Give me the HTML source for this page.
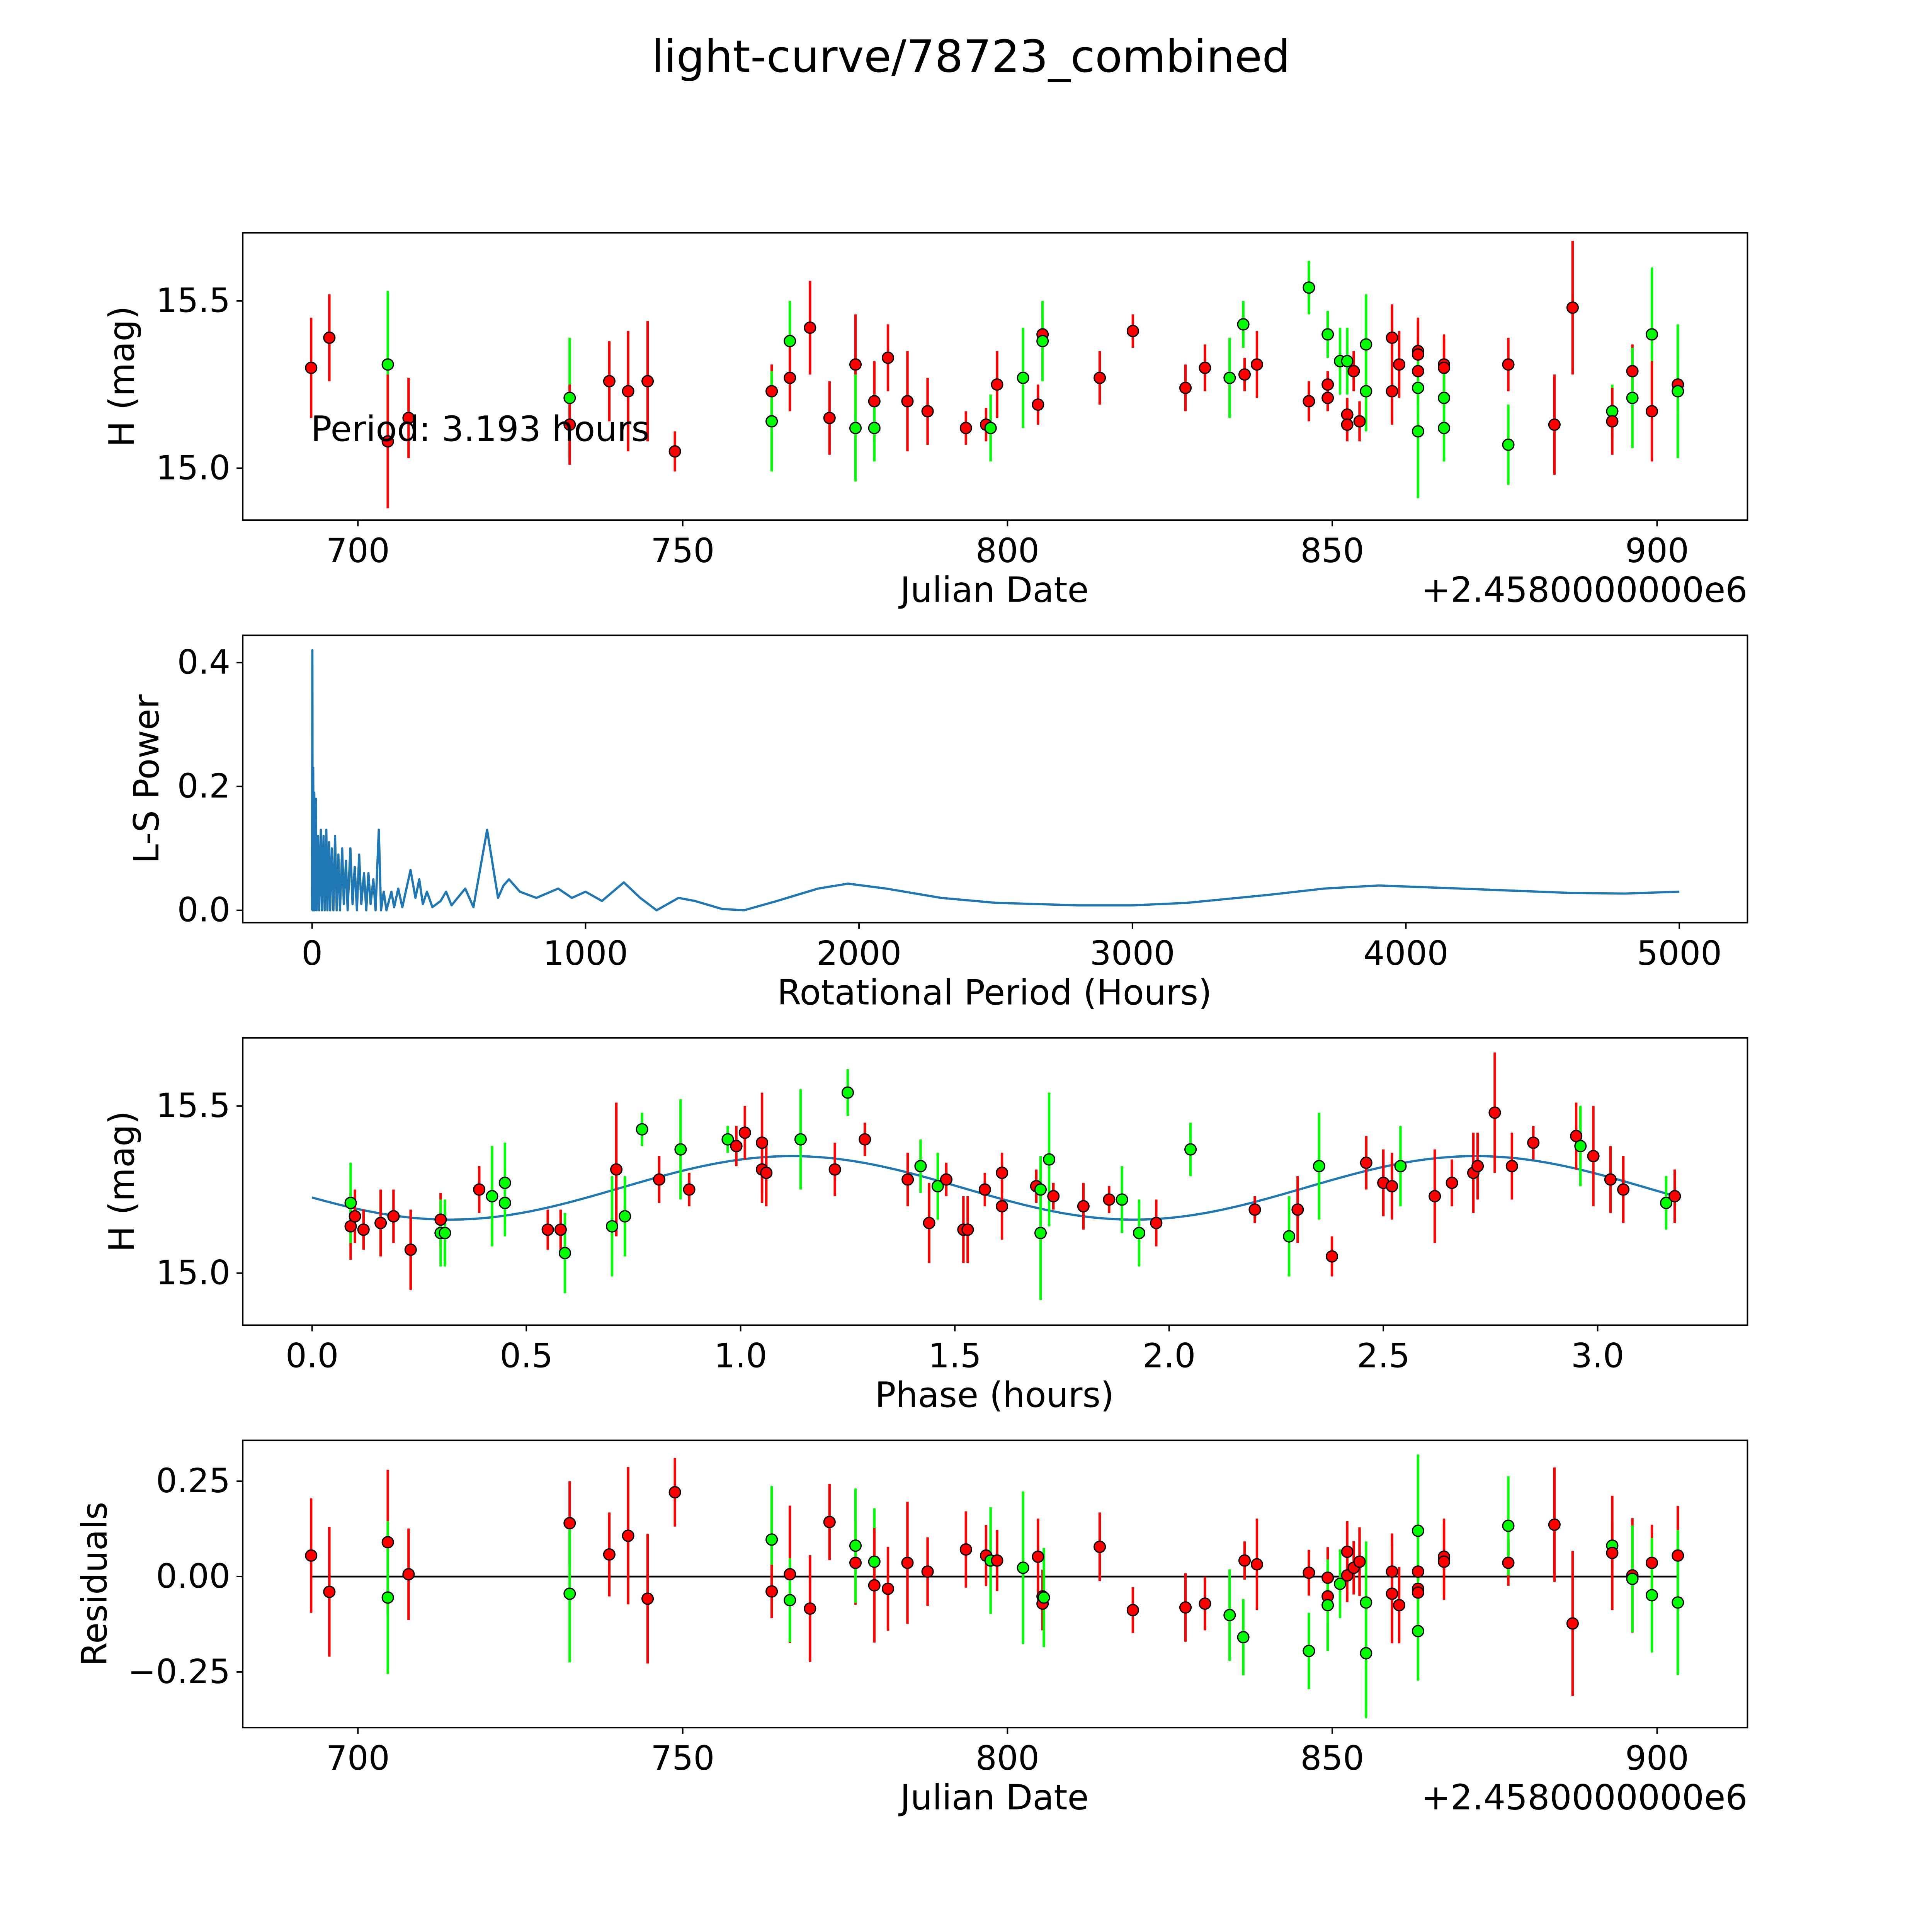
<!DOCTYPE html>
<html><head><meta charset="utf-8"><style>
html,body{margin:0;padding:0;background:#fff;width:100%;height:100%;overflow:hidden}
svg{display:block;width:100vw;height:100vh}
text{font-family:"DejaVu Sans","Liberation Sans",sans-serif;fill:#000}
</style></head><body>
<svg id="fig" xmlns="http://www.w3.org/2000/svg" viewBox="0 0 1560 1560" preserveAspectRatio="xMidYMid meet">
<rect x="0" y="0" width="1560" height="1560" fill="#fff"/>
<text x="784" y="58" font-size="36" text-anchor="middle">light-curve/78723_combined</text>
</svg>
<script>
// ---------- Panel 1: light curve data ----------
const jd = [692.8,695.6,704.6,704.6,707.8,732.6,732.6,738.7,741.6,744.6,748.8,763.7,763.7,766.5,766.5,769.6,772.6,776.6,776.6,779.5,779.5,781.6,784.6,787.7,793.6,796.7,797.4,798.4,802.4,804.7,805.4,805.4,814.2,819.3,827.4,830.4,834.2,836.3,836.5,838.4,846.4,846.4,849.3,849.3,849.3,851.2,852.3,852.3,852.3,853.3,854.2,855.2,855.2,859.2,859.2,860.3,863.2,863.2,863.2,863.2,863.2,867.2,867.2,867.2,867.2,877.1,877.1,884.2,887.0,893.1,893.1,896.2,896.2,899.2,899.2,903.2,903.2];
const mag = [15.30,15.39,15.31,15.08,15.15,15.21,15.13,15.26,15.23,15.26,15.05,15.23,15.14,15.38,15.27,15.42,15.15,15.31,15.12,15.20,15.12,15.33,15.20,15.17,15.12,15.13,15.12,15.25,15.27,15.19,15.40,15.38,15.27,15.41,15.24,15.30,15.27,15.43,15.28,15.31,15.54,15.20,15.40,15.25,15.21,15.32,15.32,15.16,15.13,15.29,15.14,15.37,15.23,15.39,15.23,15.31,15.35,15.34,15.29,15.24,15.11,15.31,15.30,15.21,15.12,15.31,15.07,15.13,15.48,15.17,15.14,15.29,15.21,15.40,15.17,15.25,15.23];
const magErr = [0.15,0.13,0.22,0.20,0.12,0.18,0.12,0.12,0.18,0.18,0.06,0.08,0.15,0.12,0.10,0.14,0.11,0.15,0.16,0.12,0.10,0.10,0.15,0.10,0.05,0.05,0.10,0.10,0.15,0.06,0.05,0.12,0.08,0.05,0.07,0.07,0.12,0.07,0.05,0.10,0.08,0.06,0.07,0.04,0.04,0.10,0.10,0.05,0.05,0.06,0.06,0.15,0.12,0.10,0.10,0.10,0.10,0.10,0.10,0.08,0.20,0.08,0.10,0.10,0.10,0.08,0.12,0.15,0.20,0.08,0.10,0.08,0.15,0.20,0.15,0.08,0.20];
const band = ["R","R","G","R","R","G","R","R","R","R","R","R","G","G","R","R","R","R","G","R","G","R","R","R","R","R","G","R","G","R","R","G","R","R","R","R","G","G","R","R","G","R","G","R","R","G","G","R","R","R","R","G","G","R","R","R","R","R","R","G","G","R","R","G","G","R","G","R","R","G","R","R","G","G","R","R","G"];

// ---------- Panel 2: periodogram ----------
const lsPeriod = [0,1,2,4,6,8,10,14,17,22,26,32,36,42,46,52,56,62,66,72,78,84,90,96,102,110,116,124,130,140,148,156,164,172,180,190,198,206,214,224,232,244,252,262,272,290,300,315,330,360,378,392,405,420,440,470,490,510,560,590,640,680,700,720,760,820,900,950,1000,1060,1140,1200,1260,1340,1400,1500,1580,1700,1850,1960,2100,2300,2500,2800,3000,3200,3500,3700,3900,4200,4600,4800,5000];
const lsPower = [0,0.42,0,0.23,0,0.19,0,0.18,0,0.12,0,0.13,0,0.12,0,0.13,0,0.11,0,0.10,0,0.12,0,0.09,0,0.10,0.01,0.08,0,0.10,0.01,0.07,0,0.09,0.01,0.06,0,0.06,0.01,0.05,0,0.13,0,0.03,0,0.03,0.005,0.035,0.005,0.065,0.02,0.05,0.01,0.03,0.005,0.015,0.03,0.008,0.035,0.005,0.13,0.02,0.04,0.05,0.03,0.02,0.035,0.02,0.03,0.015,0.045,0.02,0.0,0.02,0.015,0.002,0.0,0.015,0.035,0.043,0.035,0.02,0.012,0.008,0.008,0.012,0.025,0.035,0.04,0.035,0.028,0.027,0.03];

// ---------- Panel 3: phased data ----------
const phase = [0.09,0.09,0.10,0.12,0.16,0.19,0.23,0.30,0.30,0.31,0.39,0.42,0.45,0.45,0.55,0.58,0.59,0.70,0.71,0.73,0.81,0.77,0.86,0.88,0.97,0.99,1.01,1.05,1.05,1.06,1.14,1.22,1.25,1.29,1.39,1.42,1.44,1.46,1.48,1.52,1.53,1.57,1.61,1.61,1.69,1.70,1.70,1.72,1.73,1.80,1.86,1.89,1.93,1.97,2.05,2.20,2.28,2.30,2.35,2.38,2.46,2.50,2.52,2.54,2.62,2.66,2.71,2.72,2.76,2.80,2.85,2.95,2.96,2.99,3.03,3.06,3.16,3.18];
const phMag = [15.14,15.21,15.17,15.13,15.15,15.17,15.07,15.16,15.12,15.12,15.25,15.23,15.27,15.21,15.13,15.13,15.06,15.14,15.31,15.17,15.28,15.43,15.37,15.25,15.40,15.38,15.42,15.31,15.39,15.30,15.40,15.31,15.54,15.40,15.28,15.32,15.15,15.26,15.28,15.13,15.13,15.25,15.30,15.20,15.26,15.12,15.25,15.34,15.23,15.20,15.22,15.22,15.12,15.15,15.37,15.19,15.11,15.19,15.32,15.05,15.33,15.27,15.26,15.32,15.23,15.27,15.30,15.32,15.48,15.32,15.39,15.41,15.38,15.35,15.28,15.25,15.21,15.23];
const phErr = [0.10,0.12,0.08,0.06,0.10,0.08,0.12,0.08,0.10,0.10,0.07,0.15,0.12,0.10,0.06,0.06,0.12,0.15,0.20,0.12,0.07,0.05,0.15,0.05,0.04,0.06,0.08,0.10,0.15,0.10,0.15,0.08,0.07,0.05,0.08,0.08,0.12,0.10,0.05,0.10,0.10,0.05,0.06,0.10,0.05,0.20,0.10,0.20,0.04,0.07,0.04,0.10,0.10,0.07,0.08,0.04,0.12,0.10,0.16,0.06,0.08,0.10,0.10,0.12,0.14,0.07,0.12,0.10,0.18,0.10,0.05,0.10,0.12,0.15,0.10,0.10,0.08,0.08];
const phBand = ["R","G","R","R","R","R","R","R","G","G","R","G","G","G","R","R","G","G","R","G","R","G","G","R","G","R","R","R","R","R","G","R","G","R","R","G","R","G","R","R","R","R","R","R","R","G","G","G","R","R","R","G","G","R","G","R","G","R","G","R","R","R","R","G","R","R","R","R","R","R","R","R","G","R","R","R","G","R"];
const fitMean = [15.255];
const fitAmp = [0.095];
const fitPhase0 = [0.72];
const periodHours = [3.193];

// ---------- Panel 4: residuals ----------
const resJd = [692.8,695.6,704.6,704.6,707.8,732.6,732.6,738.7,741.6,744.6,748.8,763.7,763.7,766.5,766.5,769.6,772.6,776.6,776.6,779.5,779.5,781.6,784.6,787.7,793.6,796.7,797.4,798.4,802.4,804.7,805.4,805.4,805.6,814.2,819.3,827.4,830.4,834.2,836.3,836.5,838.4,846.4,846.4,849.3,849.3,849.3,851.2,852.3,852.3,853.3,854.2,855.2,855.2,859.2,859.2,860.3,863.2,863.2,863.2,863.2,863.2,867.2,867.2,877.1,877.1,884.2,887.0,893.1,893.1,896.2,896.2,899.2,899.2,903.2,903.2];
const resid = [0.055,-0.040,0.090,-0.055,0.006,0.140,-0.045,0.058,0.107,-0.058,0.221,0.097,-0.039,0.006,-0.062,-0.084,0.143,0.036,0.081,0.039,-0.023,-0.032,0.036,0.013,0.071,0.055,0.042,0.042,0.023,0.052,-0.052,-0.071,-0.055,0.078,-0.088,-0.081,-0.071,-0.101,-0.159,0.042,0.032,-0.195,0.010,-0.003,-0.052,-0.075,-0.019,0.065,0.003,0.023,0.039,-0.068,-0.201,0.013,-0.045,-0.075,-0.032,-0.042,0.013,0.120,-0.143,0.052,0.039,0.036,0.133,0.136,-0.123,0.081,0.062,0.003,-0.006,0.036,-0.049,0.055,-0.068];
const residErr = [0.15,0.17,0.19,0.20,0.12,0.11,0.18,0.11,0.18,0.17,0.09,0.14,0.07,0.18,0.11,0.14,0.10,0.11,0.15,0.14,0.15,0.11,0.16,0.09,0.10,0.08,0.14,0.08,0.20,0.10,0.07,0.07,0.13,0.09,0.06,0.09,0.07,0.12,0.10,0.05,0.12,0.10,0.06,0.08,0.07,0.12,0.09,0.08,0.07,0.07,0.09,0.16,0.17,0.10,0.13,0.10,0.09,0.08,0.10,0.20,0.13,0.10,0.10,0.06,0.13,0.15,0.19,0.06,0.15,0.15,0.14,0.10,0.15,0.13,0.19];
const resBand = ["R","R","R","G","R","R","G","R","R","R","R","G","R","R","G","R","R","R","G","G","R","R","R","R","R","R","G","R","G","R","R","R","G","R","R","R","R","G","G","R","R","G","R","R","R","G","G","R","R","R","R","G","G","R","R","R","R","R","R","G","G","R","R","R","G","R","R","G","R","R","G","R","G","R","G"];

const jdTicks = [700,750,800,850,900];
const magTicks = [15.0,15.5];
const lsXTicks = [0,1000,2000,3000,4000,5000];
const lsYTicks = [0.0,0.2,0.4];
const phTicks = [0.0,0.5,1.0,1.5,2.0,2.5,3.0];
const resTicks = [-0.25,0.0,0.25];

const NS = "http://www.w3.org/2000/svg";
const svg = document.getElementById('fig');
function mk(tag, attrs, parent){const e=document.createElementNS(NS,tag);for(const k in attrs)e.setAttribute(k,attrs[k]);(parent||svg).appendChild(e);return e;}
const COL = {R:"#ff0000", G:"#00ff00"};

const L=196, R=1411;
const jdX = v => 289 + (v-700)*(1338-289)/200;
const P1 = {top:188,bot:420}; const magY1 = v => 378 - (v-15)*270;
const P2 = {top:513,bot:745}; const lsX = v => 252 + v*(1356-252)/5000; const lsY = v => 735 - v*500;
const P3 = {top:838,bot:1070}; const phX = v => 252 + v*(1290-252)/3; const magY3 = v => 1028 - (v-15)*270;
const P4 = {top:1163,bot:1395}; const resY = v => 1273 - v*308;

function frame(p, name){
  const r = mk('rect',{x:L,y:p.top,width:R-L,height:p.bot-p.top,fill:'none',stroke:'#000','stroke-width':1.2});
  
  
}
function xticks(p, ticks, fx, fmt, name){
  const g = mk('g',{});
  
  
  ticks.forEach(t=>{
    const x=fx(t);
    mk('line',{x1:x,x2:x,y1:p.bot,y2:p.bot+5,stroke:'#000','stroke-width':1.2},g);
    const tx = mk('text',{x:x,y:p.bot+34,'font-size':27,'text-anchor':'middle'},g);
    tx.textContent = fmt(t);
  });
}
function yticks(p, ticks, fy, fmt, name){
  const g = mk('g',{});
  
  
  ticks.forEach(t=>{
    const y=fy(t);
    mk('line',{x1:L-5,x2:L,y1:y,y2:y,stroke:'#000','stroke-width':1.2},g);
    const tx = mk('text',{x:L-10,y:y+9,'font-size':27,'text-anchor':'end'},g);
    tx.textContent = fmt(t);
  });
}
function label(x,y,txt,rot,name){
  const t = mk('text',{x:x,y:y,'font-size':28,'text-anchor':'middle'});
  if(rot) t.setAttribute('transform','rotate(-90 '+x+' '+y+')');
  t.textContent = txt;
  
  
}
function points(xs, ys, es, bs, fx, fy, name){
  const g = mk('g',{});
  
  
  xs.forEach((v,i)=>{
    const x=fx(v);
    const lo = fy(ys[i]-es[i]), hi = fy(ys[i]+es[i]);
    const ln = mk('line',{x1:x,x2:x,y1:lo,y2:hi,stroke:COL[bs[i]],'stroke-width':2},g);
    
    
  });
  xs.forEach((v,i)=>{
    const c = mk('circle',{cx:fx(v),cy:fy(ys[i]),r:4.5,fill:COL[bs[i]],stroke:'#000','stroke-width':1},g);
    
    
  });
}

// Panel 1
frame(P1,'lightcurve-axes');
xticks(P1, jdTicks, jdX, t=>String(t), 'lightcurve-x-ticks');
yticks(P1, magTicks, magY1, t=>t.toFixed(1), 'lightcurve-y-ticks');
points(jd, mag, magErr, band, jdX, magY1, 'lightcurve-points');
label(803,486,'Julian Date',false,'lightcurve-x-title');
label(108,304,'H (mag)',true,'lightcurve-y-title');
{const t=mk('text',{x:1411,y:486,'font-size':28,'text-anchor':'end'});t.textContent='+2.4580000000e6';

}
{const t=mk('text',{x:251,y:356,'font-size':28});t.textContent='Period: '+periodHours[0]+' hours';

}

// Panel 2
frame(P2,'periodogram-axes');
xticks(P2, lsXTicks, lsX, t=>String(t), 'periodogram-x-ticks');
yticks(P2, lsYTicks, lsY, t=>t.toFixed(1), 'periodogram-y-ticks');
{
  const d = lsPeriod.map((v,i)=>(i?'L':'M')+lsX(v).toFixed(2)+' '+lsY(lsPower[i]).toFixed(2)).join(' ');
  const p = mk('path',{d:d,fill:'none',stroke:'#1f77b4','stroke-width':1.8,'stroke-linejoin':'round'});
  
  
}
label(803,811,'Rotational Period (Hours)',false,'periodogram-x-title');
label(128,629,'L-S Power',true,'periodogram-y-title');

// Panel 3
frame(P3,'phase-axes');
xticks(P3, phTicks, phX, t=>t.toFixed(1), 'phase-x-ticks');
yticks(P3, magTicks, magY3, t=>t.toFixed(1), 'phase-y-ticks');
{
  let d='';
  const n=200;
  for(let i=0;i<=n;i++){
    const p = periodHours[0]*i/n;
    const m = fitMean[0] + fitAmp[0]*Math.sin(2*Math.PI*(p-fitPhase0[0])/(periodHours[0]/2));
    d += (i?'L':'M')+phX(p).toFixed(2)+' '+magY3(m).toFixed(2)+' ';
  }
  const path = mk('path',{d:d,fill:'none',stroke:'#1f77b4','stroke-width':1.8});
  
  
}
points(phase, phMag, phErr, phBand, phX, magY3, 'phase-points');
label(803,1136,'Phase (hours)',false,'phase-x-title');
label(108,954,'H (mag)',true,'phase-y-title');

// Panel 4
frame(P4,'residuals-axes');
xticks(P4, jdTicks, jdX, t=>String(t), 'residuals-x-ticks');
yticks(P4, resTicks, resY, t=>(t<0?'\u2212':'')+Math.abs(t).toFixed(2), 'residuals-y-ticks');
{
  const z = mk('line',{x1:jdX(692.8),x2:jdX(903.2),y1:resY(0),y2:resY(0),stroke:'#000','stroke-width':1.5});
  
  
}
points(resJd, resid, residErr, resBand, jdX, resY, 'residual-points');
label(803,1461,'Julian Date',false,'residuals-x-title');
label(86,1279,'Residuals',true,'residuals-y-title');
{const t=mk('text',{x:1411,y:1461,'font-size':28,'text-anchor':'end'});t.textContent='+2.4580000000e6';

}
</script>
</body></html>
